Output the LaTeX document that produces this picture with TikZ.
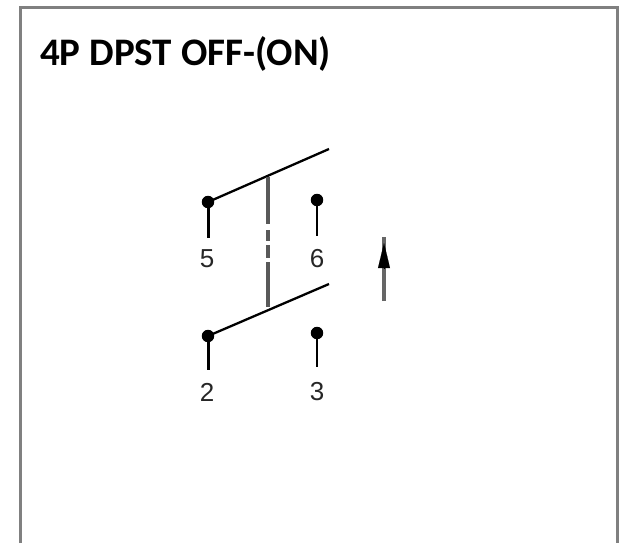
\documentclass[tikz,border=0pt]{standalone}
\usepackage{fontspec}
\setmainfont{Carlito}
\newfontfamily\digitfont{Liberation Sans}
\usetikzlibrary{arrows.meta}
\tikzset{
  contact/.style={fill,circle,inner sep=4.4pt},
  pin/.style={font=\digitfont\fontsize{26}{26}\selectfont,text=black!85,inner sep=0pt},
  title/.style={font=\bfseries\fontsize{39}{39}\selectfont,anchor=base west,inner sep=0pt},
  frameline/.style={draw=black!50,line width=3pt},
  link/.style={black!65,line width=3.5pt,dash pattern=on 47pt off 6pt on 11pt off 4pt on 13pt off 4pt on 45pt}
}
\begin{document}
\begin{tikzpicture}[x=1pt,y=-1pt]
\useasboundingbox (0,0) rectangle (631,543);
  \coordinate (fa) at (20.5,543);
  \coordinate (fb) at (20.5,7.5);
  \coordinate (fc) at (617.5,7.5);
  \coordinate (fd) at (617.5,543);
  \draw [frameline] (fa) -- (fb) -- (fc) -- (fd);
  \node (head) at (40,65) [title] {4P DPST OFF-(ON)};
  % contacts
  \node (c5) at (208,202) [contact] {};
  \node (c6) at (317,200) [contact] {};
  \node (c2) at (208,336) [contact] {};
  \node (c3) at (317,333) [contact] {};
  \coordinate (e5) at (208,238);
  \coordinate (e6) at (317,236);
  \coordinate (e2) at (208,370);
  \coordinate (e3) at (317,367);
  \draw [line width=3pt] (c5) -- (e5);
  \draw [line width=2pt] (c6) -- (e6);
  \draw [line width=3pt] (c2) -- (e2);
  \draw [line width=2pt] (c3) -- (e3);
  % blades
  \coordinate (t1) at (329,149);
  \coordinate (t2) at (329,284);
  \coordinate (l1) at (268,177);
  \coordinate (l2) at (268,307);
  \draw [line width=2.3pt] (c5.center) -- (t1);
  \draw [line width=2.3pt] (c2.center) -- (t2);
  \draw [link] (l1) -- (l2);
  % labels
  \node (n5) at (207,259) [pin] {5};
  \node (n6) at (317,259) [pin] {6};
  \node (n2) at (207,392) [pin] {2};
  \node (n3) at (317,392) [pin] {3};
  % direction
  \coordinate (ab) at (384,301);
  \coordinate (at) at (384,237);
  \coordinate (am) at (384,268);
  \coordinate (ah) at (384,243);
  \draw [black!60,line width=3.5pt] (ab) -- (at);
  \draw [-{Triangle[length=25pt,width=12pt]},line width=0.1pt] (am) -- (ah);
\end{tikzpicture}
\end{document}
